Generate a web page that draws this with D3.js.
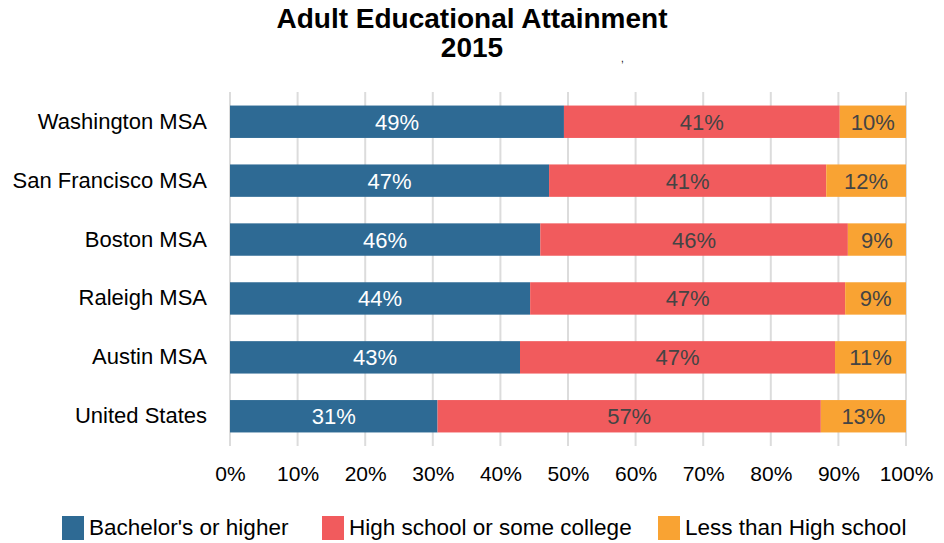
<!DOCTYPE html>
<html>
<head>
<meta charset="utf-8">
<script src="https://cdn.jsdelivr.net/npm/d3@7"></script>
<style>
  body { margin: 0; background: #fff; }
  svg text { font-family: "Liberation Sans", Arial, sans-serif; }
</style>
</head>
<body>
<svg id="chart"></svg>
<script>
let categories = ['Washington MSA', 'San Francisco MSA', 'Boston MSA', 'Raleigh MSA', 'Austin MSA', 'United States']
let bachelors = [49.4, 47.2, 45.9, 44.4, 42.9, 30.7]
let highSchool = [40.8, 41.0, 45.5, 46.6, 46.6, 56.7]
let lessThanHS = [9.8, 11.8, 8.6, 9.0, 10.5, 12.6]
let seriesNames = ["Bachelor's or higher", 'High school or some college', 'Less than High school']
let xTicks = [0, 10, 20, 30, 40, 50, 60, 70, 80, 90, 100]

let width = 944
let height = 543
let plotLeft = 230
let plotRight = 906
let plotTop = 92
let plotBottom = 446
let colors = ['#2e6a94', '#f15b5d', '#f9a333']
let labelColors = ['#ffffff', '#444444', '#444444']

let svg = d3.select('#chart')
    .attr('width', width)
    .attr('height', height)

let rows = categories.map((c, i) => ({
    name: c,
    values: [bachelors[i], highSchool[i], lessThanHS[i]]
}))

let xScale = d3.scaleLinear().domain([0, 100]).range([plotLeft, plotRight])
let yScale = d3.scaleBand().domain(categories).range([plotTop, plotBottom]).paddingInner(0.45).paddingOuter(0.23)

// title
svg.append('text')
    .attr('x', 472).attr('y', 28)
    .attr('text-anchor', 'middle')
    .style('font-weight', 'bold')
    .style('font-size', '28px')
    .text('Adult Educational Attainment')
svg.append('text')
    .attr('x', 472).attr('y', 57)
    .attr('text-anchor', 'middle')
    .style('font-weight', 'bold')
    .style('font-size', '28px')
    .text('2015')
svg.append('text')
    .attr('x', 621).attr('y', 62)
    .style('font-size', '10px')
    .text(',')

// gridlines
svg.append('g')
    .selectAll('line')
    .data(xTicks)
    .enter()
    .append('line')
    .attr('x1', d => xScale(d)).attr('x2', d => xScale(d))
    .attr('y1', plotTop).attr('y2', plotBottom)
    .attr('stroke', '#dcdcdc')
    .attr('stroke-width', 2)

// x axis labels
let xAxis = d3.axisBottom(xScale).tickValues(xTicks).tickFormat(d => d + '%').tickSize(0).tickPadding(0)
let xg = svg.append('g')
    .attr('transform', 'translate(0,' + 466 + ')')
    .call(xAxis)
xg.select('.domain').remove()
xg.selectAll('text')
    .style('font-family', '"Liberation Sans", Arial, sans-serif')
    .style('font-size', '21px')
    .attr('fill', '#000')

// y axis labels
let yAxis = d3.axisLeft(yScale).tickSize(0).tickPadding(23)
let yg = svg.append('g')
    .attr('transform', 'translate(' + plotLeft + ',0)')
    .call(yAxis)
yg.select('.domain').remove()
yg.selectAll('text')
    .style('font-family', '"Liberation Sans", Arial, sans-serif')
    .style('font-size', '22px')
    .attr('fill', '#000')

// stacked segments
rows.forEach((r) => {
    let start = 0
    r.segs = r.values.map((v, j) => {
        let s = { x0: start, x1: start + v, v: v, j: j, name: r.name }
        start += v
        return s
    })
})

let rowG = svg.selectAll('.row')
    .data(rows)
    .enter()
    .append('g')
    .attr('class', 'row')

rowG.selectAll('rect')
    .data(d => d.segs)
    .enter()
    .append('rect')
    .attr('x', d => xScale(d.x0))
    .attr('width', d => xScale(d.x1) - xScale(d.x0))
    .attr('y', d => yScale(d.name))
    .attr('height', yScale.bandwidth())
    .attr('fill', d => colors[d.j])

rowG.selectAll('text')
    .data(d => d.segs)
    .enter()
    .append('text')
    .attr('x', d => (xScale(d.x0) + xScale(d.x1)) / 2)
    .attr('y', d => yScale(d.name) + yScale.bandwidth() / 2 + 8)
    .attr('text-anchor', 'middle')
    .style('font-size', '22px')
    .attr('fill', d => labelColors[d.j])
    .text(d => Math.round(d.v) + '%')

// legend
let legendX = [62, 322, 658]
let legend = svg.selectAll('.legend')
    .data(seriesNames)
    .enter()
    .append('g')
    .attr('class', 'legend')
    .attr('transform', (d, i) => 'translate(' + legendX[i] + ',516)')
legend.append('rect')
    .attr('width', 22).attr('height', 24)
    .attr('fill', (d, i) => colors[i])
legend.append('text')
    .attr('x', 27).attr('y', 19)
    .style('font-size', '22.5px')
    .attr('fill', '#000')
    .text(d => d)
</script>
</body>
</html>
